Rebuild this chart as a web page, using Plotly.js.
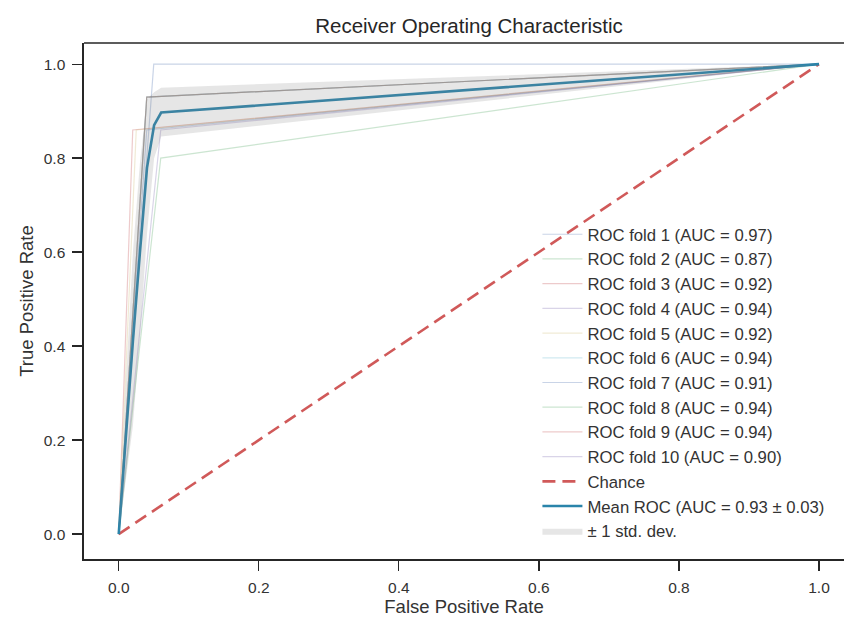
<!DOCTYPE html>
<html>
<head>
<meta charset="utf-8">
<script src="https://cdn.plot.ly/plotly-3.0.1.min.js"></script>
<style>html,body{margin:0;padding:0;background:#fff;overflow:hidden}#chart{width:844px;height:619px}</style>
</head>
<body>
<div id="chart"></div>
<script>
// ---- data ----
const foldNames = ["ROC fold 1 (AUC = 0.97)","ROC fold 2 (AUC = 0.87)","ROC fold 3 (AUC = 0.92)","ROC fold 4 (AUC = 0.94)","ROC fold 5 (AUC = 0.92)","ROC fold 6 (AUC = 0.94)","ROC fold 7 (AUC = 0.91)","ROC fold 8 (AUC = 0.94)","ROC fold 9 (AUC = 0.94)","ROC fold 10 (AUC = 0.90)"];
// each fold ROC: (0,0) -> (cornerFpr, cornerTpr) -> (1,1)
const cornerFpr = [0.05, 0.06, 0.02, 0.04, 0.025, 0.04, 0.04, 0.04, 0.04, 0.06];
const cornerTpr = [1.00, 0.80, 0.86, 0.93, 0.86, 0.93, 0.86, 0.93, 0.93, 0.86];
const foldColors = ["#4C72B0","#55A868","#C44E52","#8172B2","#CCB974","#64B5CD","#4C72B0","#55A868","#C44E52","#8172B2"];

const chanceX = [0, 1];
const chanceY = [0, 1];

const meanFpr = [0, 0.0101, 0.0202, 0.0303, 0.0404, 0.0505, 0.0606, 1.0];
const meanTpr = [0, 0.21, 0.41, 0.60, 0.78, 0.87, 0.897, 1.0];
const stdUpper = [0, 0.32, 0.60, 0.79, 0.925, 0.94, 0.95, 1.0];
const stdLower = [0, 0.11, 0.23, 0.42, 0.64, 0.80, 0.846, 1.0];

const tickVals = [0, 0.2, 0.4, 0.6, 0.8, 1.0];
const tickText = ["0.0", "0.2", "0.4", "0.6", "0.8", "1.0"];

const meanName = "Mean ROC (AUC = 0.93 \u00b1 0.03)";
const stdName = "\u00b1 1 std. dev.";

const FONT = "Liberation Sans, Arial, sans-serif";
const traces = [];
for (let i = 0; i < foldNames.length; i++) {
  traces.push({
    x: [0, cornerFpr[i], 1], y: [0, cornerTpr[i], 1],
    mode: "lines", name: foldNames[i],
    line: {color: foldColors[i], width: 1.2}, opacity: 0.3,
    hoverinfo: "skip"
  });
}
traces.push({x: chanceX, y: chanceY, mode: "lines", name: "Chance",
  line: {color: "#C83C3C", width: 2.6, dash: "13px,7px"}, opacity: 0.85});
traces.push({x: meanFpr, y: meanTpr, mode: "lines", name: meanName,
  line: {color: "#2a84aa", width: 2.6}});
traces.push({
  x: meanFpr.concat(meanFpr.slice().reverse()),
  y: stdUpper.concat(stdLower.slice().reverse()),
  mode: "lines", fill: "toself", fillcolor: "rgba(128,128,128,0.2)",
  line: {width: 0, color: "rgba(0,0,0,0)"}, name: stdName
});

const axisCommon = {
  showgrid: false, zeroline: false, showline: true, linecolor: "#262626", linewidth: 1.6,
  ticks: "outside", ticklen: 10, tickwidth: 1.3, tickcolor: "#262626",
  ticklabelstandoff: 4,
  tickfont: {family: FONT, size: 15.5, color: "#333"},
  tickvals: tickVals, ticktext: tickText, automargin: true
};

const layout = {
  width: 844, height: 619,
  margin: {l: 84, r: 0, t: 43, b: 60},
  paper_bgcolor: "#fff", plot_bgcolor: "#fff",
  title: {text: "Receiver Operating Characteristic", font: {family: FONT, size: 20.5, color: "#262626"},
          x: 0.5066, xref: "paper", xanchor: "center", y: 0.958, yref: "container", yanchor: "middle"},
  xaxis: Object.assign({}, axisCommon, {
    range: [-0.0496, 1.0357], mirror: false,
    title: {text: "False Positive Rate", font: {family: FONT, size: 18.5, color: "#333"}, standoff: 3}
  }),
  yaxis: Object.assign({}, axisCommon, {
    range: [-0.053, 1.045],
    title: {text: "True Positive Rate", font: {family: FONT, size: 18.5, color: "#333"}, standoff: 5}
  }),
  showlegend: true,
  legend: {x: 0.5966, xanchor: "left", y: 0.663, yanchor: "top", bgcolor: "rgba(0,0,0,0)",
           font: {family: FONT, size: 16.7, color: "#333"}, itemwidth: 40, tracegroupgap: 0},
  shapes: [{type: "line", xref: "paper", yref: "paper", x0: 0, x1: 1.02, y0: 1, y1: 1,
            line: {color: "#262626", width: 1.6}}]
};

Plotly.newPlot("chart", traces, layout, {displayModeBar: false, staticPlot: true});
</script>
</body>
</html>
